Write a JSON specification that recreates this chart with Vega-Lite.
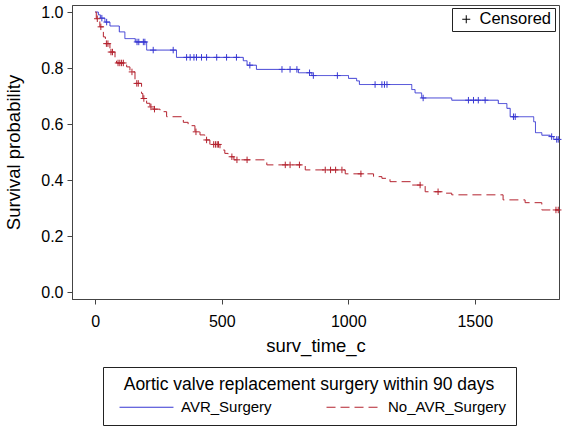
{
  "$schema": "https://vega.github.io/schema/vega-lite/v6.json",
  "autosize": {"type": "none"},
  "width": 487,
  "height": 294,
  "padding": {"left": 72, "top": 5, "right": 7, "bottom": 128},
  "background": "white",
  "config": {
    "font": "Liberation Sans",
    "view": {"stroke": "#444", "strokeWidth": 1},
    "axis": {"domainColor": "#444", "tickColor": "#444", "labelColor": "black", "titleColor": "black", "titleFontWeight": "normal", "grid": false}
  },
  "data": {"values": [
    {"g":"AVR_Surgery","t":0,"s":1.0,"st":"Event"},
    {"g":"AVR_Surgery","t":12,"s":0.99,"st":"Event"},
    {"g":"AVR_Surgery","t":20,"s":0.978,"st":"Event"},
    {"g":"AVR_Surgery","t":26,"s":0.978,"st":"Censored"},
    {"g":"AVR_Surgery","t":38,"s":0.964,"st":"Event"},
    {"g":"AVR_Surgery","t":45,"s":0.964,"st":"Censored"},
    {"g":"AVR_Surgery","t":58,"s":0.95,"st":"Event"},
    {"g":"AVR_Surgery","t":95,"s":0.929,"st":"Event"},
    {"g":"AVR_Surgery","t":117,"s":0.905,"st":"Event"},
    {"g":"AVR_Surgery","t":158,"s":0.893,"st":"Event"},
    {"g":"AVR_Surgery","t":165,"s":0.893,"st":"Censored"},
    {"g":"AVR_Surgery","t":172,"s":0.893,"st":"Censored"},
    {"g":"AVR_Surgery","t":190,"s":0.893,"st":"Censored"},
    {"g":"AVR_Surgery","t":196,"s":0.893,"st":"Censored"},
    {"g":"AVR_Surgery","t":203,"s":0.864,"st":"Event"},
    {"g":"AVR_Surgery","t":229,"s":0.864,"st":"Censored"},
    {"g":"AVR_Surgery","t":308,"s":0.864,"st":"Censored"},
    {"g":"AVR_Surgery","t":321,"s":0.838,"st":"Event"},
    {"g":"AVR_Surgery","t":361,"s":0.838,"st":"Censored"},
    {"g":"AVR_Surgery","t":375,"s":0.838,"st":"Censored"},
    {"g":"AVR_Surgery","t":390,"s":0.838,"st":"Censored"},
    {"g":"AVR_Surgery","t":400,"s":0.838,"st":"Censored"},
    {"g":"AVR_Surgery","t":420,"s":0.838,"st":"Censored"},
    {"g":"AVR_Surgery","t":440,"s":0.838,"st":"Censored"},
    {"g":"AVR_Surgery","t":480,"s":0.838,"st":"Censored"},
    {"g":"AVR_Surgery","t":519,"s":0.838,"st":"Censored"},
    {"g":"AVR_Surgery","t":558,"s":0.838,"st":"Censored"},
    {"g":"AVR_Surgery","t":585,"s":0.826,"st":"Event"},
    {"g":"AVR_Surgery","t":600,"s":0.81,"st":"Event"},
    {"g":"AVR_Surgery","t":611,"s":0.81,"st":"Censored"},
    {"g":"AVR_Surgery","t":637,"s":0.795,"st":"Event"},
    {"g":"AVR_Surgery","t":738,"s":0.795,"st":"Censored"},
    {"g":"AVR_Surgery","t":770,"s":0.795,"st":"Censored"},
    {"g":"AVR_Surgery","t":797,"s":0.795,"st":"Censored"},
    {"g":"AVR_Surgery","t":803,"s":0.783,"st":"Event"},
    {"g":"AVR_Surgery","t":847,"s":0.783,"st":"Censored"},
    {"g":"AVR_Surgery","t":856,"s":0.773,"st":"Event"},
    {"g":"AVR_Surgery","t":862,"s":0.773,"st":"Censored"},
    {"g":"AVR_Surgery","t":957,"s":0.773,"st":"Censored"},
    {"g":"AVR_Surgery","t":1001,"s":0.763,"st":"Event"},
    {"g":"AVR_Surgery","t":1033,"s":0.754,"st":"Event"},
    {"g":"AVR_Surgery","t":1044,"s":0.741,"st":"Event"},
    {"g":"AVR_Surgery","t":1106,"s":0.741,"st":"Censored"},
    {"g":"AVR_Surgery","t":1133,"s":0.741,"st":"Censored"},
    {"g":"AVR_Surgery","t":1143,"s":0.741,"st":"Censored"},
    {"g":"AVR_Surgery","t":1153,"s":0.741,"st":"Censored"},
    {"g":"AVR_Surgery","t":1251,"s":0.723,"st":"Event"},
    {"g":"AVR_Surgery","t":1264,"s":0.711,"st":"Event"},
    {"g":"AVR_Surgery","t":1290,"s":0.693,"st":"Event"},
    {"g":"AVR_Surgery","t":1296,"s":0.693,"st":"Censored"},
    {"g":"AVR_Surgery","t":1409,"s":0.685,"st":"Event"},
    {"g":"AVR_Surgery","t":1475,"s":0.685,"st":"Censored"},
    {"g":"AVR_Surgery","t":1495,"s":0.685,"st":"Censored"},
    {"g":"AVR_Surgery","t":1514,"s":0.685,"st":"Censored"},
    {"g":"AVR_Surgery","t":1541,"s":0.685,"st":"Censored"},
    {"g":"AVR_Surgery","t":1593,"s":0.673,"st":"Event"},
    {"g":"AVR_Surgery","t":1627,"s":0.656,"st":"Event"},
    {"g":"AVR_Surgery","t":1640,"s":0.626,"st":"Event"},
    {"g":"AVR_Surgery","t":1653,"s":0.626,"st":"Censored"},
    {"g":"AVR_Surgery","t":1660,"s":0.626,"st":"Censored"},
    {"g":"AVR_Surgery","t":1733,"s":0.608,"st":"Event"},
    {"g":"AVR_Surgery","t":1740,"s":0.569,"st":"Event"},
    {"g":"AVR_Surgery","t":1765,"s":0.56,"st":"Event"},
    {"g":"AVR_Surgery","t":1798,"s":0.555,"st":"Event"},
    {"g":"AVR_Surgery","t":1804,"s":0.555,"st":"Censored"},
    {"g":"AVR_Surgery","t":1812,"s":0.545,"st":"Event"},
    {"g":"AVR_Surgery","t":1824,"s":0.545,"st":"Censored"},
    {"g":"AVR_Surgery","t":1830,"s":0.545,"st":"Censored"},
    {"g":"No_AVR_Surgery","t":0,"s":1.0,"st":"Event"},
    {"g":"No_AVR_Surgery","t":4,"s":0.976,"st":"Event"},
    {"g":"No_AVR_Surgery","t":8,"s":0.976,"st":"Censored"},
    {"g":"No_AVR_Surgery","t":18,"s":0.947,"st":"Event"},
    {"g":"No_AVR_Surgery","t":22,"s":0.947,"st":"Censored"},
    {"g":"No_AVR_Surgery","t":32,"s":0.911,"st":"Event"},
    {"g":"No_AVR_Surgery","t":40,"s":0.887,"st":"Event"},
    {"g":"No_AVR_Surgery","t":44,"s":0.887,"st":"Censored"},
    {"g":"No_AVR_Surgery","t":50,"s":0.887,"st":"Censored"},
    {"g":"No_AVR_Surgery","t":58,"s":0.857,"st":"Event"},
    {"g":"No_AVR_Surgery","t":62,"s":0.857,"st":"Censored"},
    {"g":"No_AVR_Surgery","t":68,"s":0.857,"st":"Censored"},
    {"g":"No_AVR_Surgery","t":78,"s":0.828,"st":"Event"},
    {"g":"No_AVR_Surgery","t":84,"s":0.818,"st":"Event"},
    {"g":"No_AVR_Surgery","t":90,"s":0.818,"st":"Censored"},
    {"g":"No_AVR_Surgery","t":97,"s":0.818,"st":"Censored"},
    {"g":"No_AVR_Surgery","t":104,"s":0.818,"st":"Censored"},
    {"g":"No_AVR_Surgery","t":111,"s":0.818,"st":"Censored"},
    {"g":"No_AVR_Surgery","t":124,"s":0.804,"st":"Event"},
    {"g":"No_AVR_Surgery","t":137,"s":0.786,"st":"Event"},
    {"g":"No_AVR_Surgery","t":145,"s":0.786,"st":"Censored"},
    {"g":"No_AVR_Surgery","t":157,"s":0.757,"st":"Event"},
    {"g":"No_AVR_Surgery","t":160,"s":0.745,"st":"Event"},
    {"g":"No_AVR_Surgery","t":164,"s":0.745,"st":"Censored"},
    {"g":"No_AVR_Surgery","t":170,"s":0.745,"st":"Censored"},
    {"g":"No_AVR_Surgery","t":183,"s":0.709,"st":"Event"},
    {"g":"No_AVR_Surgery","t":188,"s":0.691,"st":"Event"},
    {"g":"No_AVR_Surgery","t":192,"s":0.691,"st":"Censored"},
    {"g":"No_AVR_Surgery","t":203,"s":0.674,"st":"Event"},
    {"g":"No_AVR_Surgery","t":216,"s":0.661,"st":"Event"},
    {"g":"No_AVR_Surgery","t":220,"s":0.661,"st":"Censored"},
    {"g":"No_AVR_Surgery","t":228,"s":0.653,"st":"Event"},
    {"g":"No_AVR_Surgery","t":234,"s":0.653,"st":"Censored"},
    {"g":"No_AVR_Surgery","t":256,"s":0.644,"st":"Event"},
    {"g":"No_AVR_Surgery","t":282,"s":0.626,"st":"Event"},
    {"g":"No_AVR_Surgery","t":348,"s":0.606,"st":"Event"},
    {"g":"No_AVR_Surgery","t":367,"s":0.594,"st":"Event"},
    {"g":"No_AVR_Surgery","t":394,"s":0.572,"st":"Event"},
    {"g":"No_AVR_Surgery","t":398,"s":0.572,"st":"Censored"},
    {"g":"No_AVR_Surgery","t":414,"s":0.561,"st":"Event"},
    {"g":"No_AVR_Surgery","t":433,"s":0.543,"st":"Event"},
    {"g":"No_AVR_Surgery","t":440,"s":0.543,"st":"Censored"},
    {"g":"No_AVR_Surgery","t":453,"s":0.527,"st":"Event"},
    {"g":"No_AVR_Surgery","t":468,"s":0.527,"st":"Censored"},
    {"g":"No_AVR_Surgery","t":475,"s":0.527,"st":"Censored"},
    {"g":"No_AVR_Surgery","t":482,"s":0.527,"st":"Censored"},
    {"g":"No_AVR_Surgery","t":487,"s":0.527,"st":"Censored"},
    {"g":"No_AVR_Surgery","t":493,"s":0.507,"st":"Event"},
    {"g":"No_AVR_Surgery","t":512,"s":0.495,"st":"Event"},
    {"g":"No_AVR_Surgery","t":525,"s":0.483,"st":"Event"},
    {"g":"No_AVR_Surgery","t":540,"s":0.483,"st":"Censored"},
    {"g":"No_AVR_Surgery","t":548,"s":0.472,"st":"Event"},
    {"g":"No_AVR_Surgery","t":560,"s":0.472,"st":"Censored"},
    {"g":"No_AVR_Surgery","t":600,"s":0.472,"st":"Censored"},
    {"g":"No_AVR_Surgery","t":678,"s":0.454,"st":"Event"},
    {"g":"No_AVR_Surgery","t":751,"s":0.454,"st":"Censored"},
    {"g":"No_AVR_Surgery","t":770,"s":0.454,"st":"Censored"},
    {"g":"No_AVR_Surgery","t":807,"s":0.454,"st":"Censored"},
    {"g":"No_AVR_Surgery","t":830,"s":0.436,"st":"Event"},
    {"g":"No_AVR_Surgery","t":909,"s":0.436,"st":"Censored"},
    {"g":"No_AVR_Surgery","t":930,"s":0.436,"st":"Censored"},
    {"g":"No_AVR_Surgery","t":950,"s":0.436,"st":"Censored"},
    {"g":"No_AVR_Surgery","t":975,"s":0.436,"st":"Censored"},
    {"g":"No_AVR_Surgery","t":988,"s":0.422,"st":"Event"},
    {"g":"No_AVR_Surgery","t":1050,"s":0.422,"st":"Censored"},
    {"g":"No_AVR_Surgery","t":1100,"s":0.412,"st":"Event"},
    {"g":"No_AVR_Surgery","t":1133,"s":0.406,"st":"Event"},
    {"g":"No_AVR_Surgery","t":1165,"s":0.394,"st":"Event"},
    {"g":"No_AVR_Surgery","t":1251,"s":0.382,"st":"Event"},
    {"g":"No_AVR_Surgery","t":1284,"s":0.382,"st":"Censored"},
    {"g":"No_AVR_Surgery","t":1304,"s":0.358,"st":"Event"},
    {"g":"No_AVR_Surgery","t":1355,"s":0.358,"st":"Censored"},
    {"g":"No_AVR_Surgery","t":1383,"s":0.353,"st":"Event"},
    {"g":"No_AVR_Surgery","t":1409,"s":0.347,"st":"Event"},
    {"g":"No_AVR_Surgery","t":1612,"s":0.329,"st":"Event"},
    {"g":"No_AVR_Surgery","t":1699,"s":0.319,"st":"Event"},
    {"g":"No_AVR_Surgery","t":1765,"s":0.293,"st":"Event"},
    {"g":"No_AVR_Surgery","t":1821,"s":0.293,"st":"Censored"},
    {"g":"No_AVR_Surgery","t":1830,"s":0.293,"st":"Censored"}
  ]},
  "encoding": {
    "x": {"field": "t", "type": "quantitative", "title": "surv_time_c",
      "scale": {"domain": [-92, 1833], "nice": false, "zero": false},
      "axis": {"values": [0, 500, 1000, 1500], "format": "d", "labelFontSize": 16, "titleFontSize": 18.5, "tickSize": 5, "labelPadding": 9, "titlePadding": 7, "labelFlush": false}},
    "y": {"field": "s", "type": "quantitative", "title": "Survival probability",
      "scale": {"domain": [-0.025, 1.025], "nice": false, "zero": false},
      "axis": {"values": [0, 0.2, 0.4, 0.6, 0.8, 1.0], "format": ".1f", "labelFontSize": 16, "titleFontSize": 18.5, "tickSize": 5, "labelPadding": 4, "titlePadding": 17, "labelFlush": false}}
  },
  "layer": [
    {
      "mark": {"type": "line", "interpolate": "step-after", "strokeWidth": 1},
      "encoding": {
        "color": {"field": "g", "type": "nominal",
          "scale": {"domain": ["AVR_Surgery", "No_AVR_Surgery"], "range": ["#3737d2", "#b4232f"]},
          "legend": {"title": "Aortic valve replacement surgery within 90 days", "orient": "none", "legendX": 31, "legendY": 362, "direction": "horizontal",
            "titleFontSize": 17.5, "titleFontWeight": "normal", "titleColor": "black", "titleAnchor": "middle", "titleLimit": 600, "titlePadding": 6,
            "labelFontSize": 15, "labelColor": "black", "labelLimit": 300, "labelOffset": 27, "symbolOffset": 27, "symbolType": "M-4,0H4", "symbolSize": 182, "symbolStrokeWidth": 1.2, "columnPadding": 47,
            "strokeColor": "#222", "padding": 9}},
        "strokeDash": {"field": "g", "type": "nominal",
          "scale": {"domain": ["AVR_Surgery", "No_AVR_Surgery"], "range": [[1, 0], [9, 5]]},
          "legend": {"title": "Aortic valve replacement surgery within 90 days", "orient": "none", "legendX": 31, "legendY": 362, "direction": "horizontal",
            "titleFontSize": 17.5, "titleFontWeight": "normal", "titleColor": "black", "titleAnchor": "middle", "titleLimit": 600, "titlePadding": 6,
            "labelFontSize": 15, "labelColor": "black", "labelLimit": 300, "labelOffset": 27, "symbolOffset": 27, "symbolType": "M-4,0H4", "symbolSize": 182, "symbolStrokeWidth": 1.2, "columnPadding": 47,
            "strokeColor": "#222", "padding": 9}}
      }
    },
    {
      "transform": [{"filter": "datum.st == 'Censored'"}],
      "mark": {"type": "point", "filled": false, "strokeWidth": 1, "size": 42, "opacity": 1},
      "encoding": {
        "stroke": {"field": "g", "type": "nominal",
          "scale": {"domain": ["AVR_Surgery", "No_AVR_Surgery"], "range": ["#3737d2", "#b4232f"]},
          "legend": null},
        "shape": {"field": "st", "type": "nominal",
          "scale": {"domain": ["Censored"], "range": ["M-1,0H1M0,-1V1"]},
          "legend": {"title": null, "orient": "none", "legendX": 380, "legendY": 3,
            "labelFontSize": 16.5, "labelColor": "black", "labelOffset": 5, "symbolOffset": 3,
            "symbolSize": 64, "symbolStrokeColor": "black", "symbolFillColor": "transparent", "symbolStrokeWidth": 1,
            "strokeColor": "#222", "padding": 3}}
      }
    }
  ]
}
